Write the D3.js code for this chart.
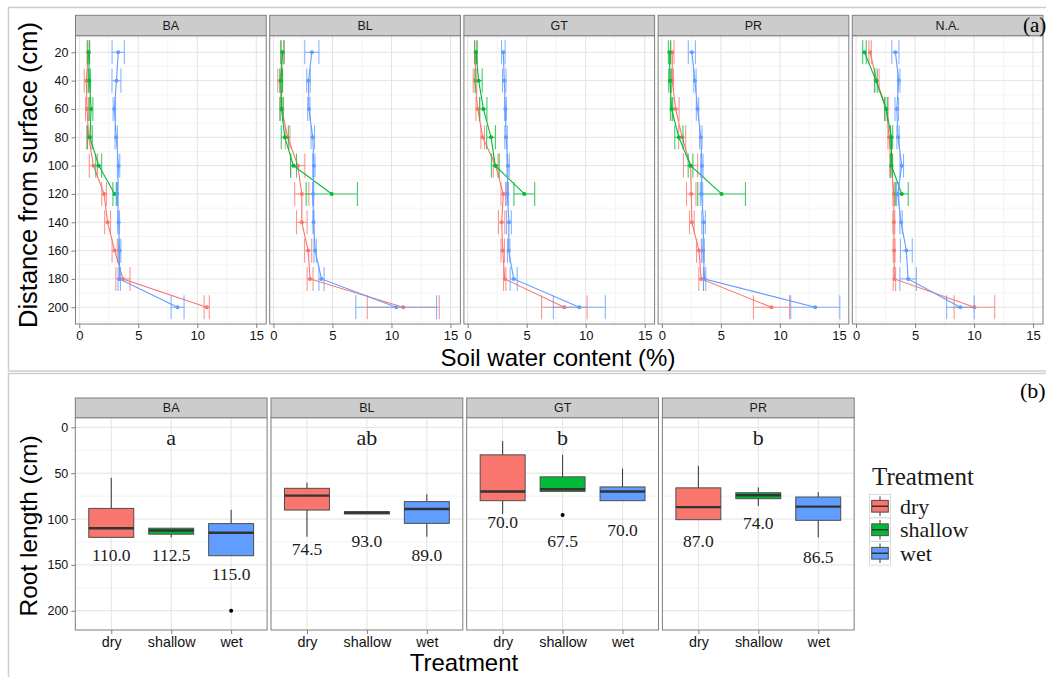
<!DOCTYPE html>
<html><head><meta charset="utf-8">
<script src="https://cdn.jsdelivr.net/npm/d3@7"></script>
<style>body{margin:0;background:#fff;} svg{display:block;}</style>
</head><body>
<svg id="chart" width="1046" height="677"></svg>
<script>
// ---------- DATA ----------
const treatments = ["dry", "shallow", "wet"];
const colors = ["#F8766D", "#00BA38", "#619CFF"];

// (a) soil water content profiles
const depths = [20, 40, 60, 80, 100, 120, 140, 160, 180, 200];
const sitesA = ["BA", "BL", "GT", "PR", "N.A."];
const xTicksA = [0, 5, 10, 15];
const yTicksA = [20, 40, 60, 80, 100, 120, 140, 160, 180, 200];

const dryMean = [
  [0.76, 0.6, 0.65, 0.8, 1.2, 2.1, 2.4, 3.0, 3.7, 10.8],
  [0.76, 0.56, 0.7, 1.2, 2.06, 2.4, 2.4, 2.94, 3.1, 11.0],
  [0.68, 0.62, 0.85, 1.27, 2.37, 3.02, 2.88, 2.97, 3.14, 8.19],
  [0.88, 0.88, 1.16, 1.72, 2.43, 2.49, 2.54, 3.14, 3.33, 9.29],
  [1.19, 1.75, 2.57, 2.8, 2.97, 3.2, 3.2, 3.22, 3.25, 10.03]
];
const drySE = [
  [0.1, 0.18, 0.12, 0.18, 0.35, 0.2, 0.25, 0.22, 0.6, 0.22],
  [0.15, 0.2, 0.15, 0.2, 0.6, 0.6, 0.45, 0.3, 0.25, 3.05],
  [0.1, 0.15, 0.15, 0.15, 0.2, 0.2, 0.27, 0.15, 0.1, 1.93],
  [0.15, 0.1, 0.3, 0.3, 0.6, 0.4, 0.2, 0.2, 0.2, 1.53],
  [0.1, 0.2, 0.15, 0.1, 0.1, 0.08, 0.08, 0.08, 0.1, 1.72]
];
const shallowMean = [
  [0.8, 0.85, 1.0, 0.9, 1.65, 3.0],
  [0.76, 0.65, 0.68, 0.96, 1.7, 4.94],
  [0.7, 0.93, 1.33, 1.98, 2.34, 4.8],
  [0.65, 0.68, 0.82, 1.44, 2.43, 5.06],
  [0.71, 1.69, 2.54, 3.0, 3.0, 3.87]
];
const shallowSE = [
  [0.08, 0.1, 0.15, 0.2, 0.25, 0.15],
  [0.12, 0.12, 0.12, 0.3, 0.25, 2.17],
  [0.1, 0.3, 0.3, 0.37, 0.33, 0.88],
  [0.1, 0.1, 0.1, 0.35, 0.2, 2.02],
  [0.15, 0.1, 0.1, 0.1, 0.1, 0.55]
];
const wetMean = [
  [3.3, 3.15, 2.97, 3.13, 3.33, 3.22, 3.33, 3.42, 3.39, 8.33],
  [3.25, 2.97, 3.0, 3.33, 3.42, 3.36, 3.39, 3.53, 4.07, 10.4],
  [3.02, 3.1, 3.2, 3.25, 3.42, 3.36, 3.5, 3.47, 3.9, 9.46],
  [2.54, 2.8, 3.02, 3.3, 3.39, 3.36, 3.53, 3.5, 3.62, 13.0],
  [3.33, 3.62, 3.45, 3.56, 3.87, 3.53, 3.81, 4.26, 4.41, 8.84]
];
const wetSE = [
  [0.52, 0.38, 0.1, 0.1, 0.1, 0.08, 0.08, 0.1, 0.1, 0.55],
  [0.6, 0.15, 0.1, 0.15, 0.1, 0.05, 0.05, 0.1, 0.22, 3.42],
  [0.15, 0.15, 0.08, 0.1, 0.1, 0.1, 0.2, 0.1, 0.3, 2.2],
  [0.3, 0.1, 0.1, 0.1, 0.1, 0.1, 0.15, 0.1, 0.1, 2.08],
  [0.3, 0.1, 0.15, 0.1, 0.15, 0.1, 0.1, 0.5, 0.7, 1.17]
];

// (b) root length boxplots: [lower whisker, Q1, median, Q3, upper whisker]
const sitesB = ["BA", "BL", "GT", "PR"];
const yTicksB = [0, 50, 100, 150, 200];
const boxDry = [
  [55, 88.4, 110, 120, 120],
  [60.4, 66.5, 74.5, 90.2, 119.3],
  [15, 30, 70, 80, 94.5],
  [42, 66, 87, 100.7, 100.7]
];
const boxShallow = [
  [110, 110, 112.5, 116.5, 120],
  [92, 92, 93, 94.5, 94.5],
  [30, 54, 67.5, 69.8, 69.8],
  [65.5, 71.3, 74, 77.8, 85.8]
];
const boxWet = [
  [90, 105, 115, 140, 140],
  [73, 81, 89, 104.7, 119.3],
  [45, 65, 70, 80, 80],
  [70.6, 76, 86.5, 101.4, 120]
];
const outDry = [[], [], [], []];
const outShallow = [[], [], [95.6], []];
const outWet = [[200], [], [], []];
const labelDepthDry = [139, 132, 103, 123.6];
const labelDepthShallow = [139, 123.6, 123.6, 104.7];
const labelDepthWet = [160, 139, 112, 141];
const groupLetters = ["a", "ab", "b", "b"];
const letterDepth = 12;

// ---------- DRAW ----------
const svg = d3.select("#chart");
const SANS = "'Liberation Sans', Arial, Helvetica, sans-serif";
const SERIF = "'Liberation Serif', 'Times New Roman', serif";
const GREY50 = "#7f7f7f";

svg.append("rect").attr("width", 1046).attr("height", 677).attr("fill", "#fff");
// frames
svg.append("rect").attr("x", 8.5).attr("y", 7.5).attr("width", 1100).attr("height", 363.5)
  .attr("fill", "none").attr("stroke", "#cdcdcd").attr("stroke-width", 1.5);
svg.append("rect").attr("x", 8.5).attr("y", 373.5).attr("width", 1100).attr("height", 400)
  .attr("fill", "none").attr("stroke", "#cdcdcd").attr("stroke-width", 1.5);

function styleAxis(g, fontSize) {
  g.select(".domain").remove();
  g.selectAll(".tick line").attr("stroke", GREY50).attr("stroke-width", 1);
  g.selectAll(".tick text").attr("font-family", SANS).attr("font-size", fontSize).attr("fill", "#111");
}

// ----- (a) -----
const PA = {left: 75.5, width: 190.7, step: 194.2, top: 35.7, bottom: 324, stripTop: 15.3};
const xA = d3.scaleLinear().domain([-0.32, 15.84]).range([0, PA.width]);
const yA = d3.scaleLinear().domain([8.28, 211.8]).range([PA.top, PA.bottom]);
const capHalf = 8.5;
const meansByT = [dryMean, shallowMean, wetMean];
const seByT = [drySE, shallowSE, wetSE];

sitesA.forEach((site, si) => {
  const g = svg.append("g").attr("transform", `translate(${PA.left + si * PA.step},0)`);
  // minor grid
  [2.5, 7.5, 12.5].forEach(v => g.append("line").attr("x1", xA(v)).attr("x2", xA(v))
    .attr("y1", PA.top).attr("y2", PA.bottom).attr("stroke", "#f3f3f3").attr("stroke-width", 1));
  d3.range(10, 211, 20).forEach(v => g.append("line").attr("x1", 0).attr("x2", PA.width)
    .attr("y1", yA(v)).attr("y2", yA(v)).attr("stroke", "#f5f5f5").attr("stroke-width", 1));
  // major grid
  xTicksA.forEach(v => g.append("line").attr("x1", xA(v)).attr("x2", xA(v))
    .attr("y1", PA.top).attr("y2", PA.bottom).attr("stroke", "#e3e3e3").attr("stroke-width", 1));
  yTicksA.forEach(v => g.append("line").attr("x1", 0).attr("x2", PA.width)
    .attr("y1", yA(v)).attr("y2", yA(v)).attr("stroke", "#e3e3e3").attr("stroke-width", 1));

  treatments.forEach((t, ti) => {
    const data = meansByT[ti][si].map((m, i) => ({d: depths[i], m: m, se: seByT[ti][si][i]}));
    const col = colors[ti];
    const eb = g.append("g").attr("stroke", col).attr("stroke-width", 1.1).attr("opacity", 0.75);
    data.forEach(p => {
      eb.append("line").attr("x1", xA(p.m - p.se)).attr("x2", xA(p.m + p.se)).attr("y1", yA(p.d)).attr("y2", yA(p.d));
      [p.m - p.se, p.m + p.se].forEach(v => eb.append("line").attr("x1", xA(v)).attr("x2", xA(v))
        .attr("y1", yA(p.d - capHalf)).attr("y2", yA(p.d + capHalf)));
    });
    g.append("path").datum(data).attr("fill", "none").attr("stroke", col).attr("stroke-width", 1.1)
      .attr("d", d3.line().x(p => xA(p.m)).y(p => yA(p.d)));
    g.selectAll(null).data(data).enter().append("circle")
      .attr("cx", p => xA(p.m)).attr("cy", p => yA(p.d)).attr("r", 2).attr("fill", col);
  });

  g.append("rect").attr("x", 0).attr("y", PA.top).attr("width", PA.width).attr("height", PA.bottom - PA.top)
    .attr("fill", "none").attr("stroke", GREY50).attr("stroke-width", 1);
  g.append("rect").attr("x", 0).attr("y", PA.stripTop).attr("width", PA.width).attr("height", PA.top - PA.stripTop)
    .attr("fill", "#cccccc").attr("stroke", GREY50).attr("stroke-width", 1);
  g.append("text").attr("x", PA.width / 2).attr("y", (PA.stripTop + PA.top) / 2).attr("dy", "0.35em")
    .attr("text-anchor", "middle").attr("font-family", SANS).attr("font-size", 12.5).attr("fill", "#1a1a1a").text(site);

  const ax = g.append("g").attr("transform", `translate(0,${PA.bottom})`)
    .call(d3.axisBottom(xA).tickValues(xTicksA).tickSize(4).tickPadding(3));
  styleAxis(ax, 13);
  if (si === 0) {
    const ay = g.append("g").call(d3.axisLeft(yA).tickValues(yTicksA).tickSize(4).tickPadding(3));
    styleAxis(ay, 12.5);
  }
});

svg.append("text").attr("x", 558).attr("y", 366).attr("text-anchor", "middle")
  .attr("font-family", SANS).attr("font-size", 24).attr("fill", "#000").text("Soil water content (%)");
svg.append("text").attr("transform", "translate(37,175) rotate(-90)").attr("text-anchor", "middle")
  .attr("font-family", SANS).attr("font-size", 25.5).attr("fill", "#000").text("Distance from surface (cm)");
svg.append("text").attr("x", 1023).attr("y", 32).attr("font-family", SERIF).attr("font-size", 21)
  .attr("fill", "#000").text("(a)");

// ----- (b) -----
const PB = {left: 75.3, width: 191.8, step: 195.7, top: 417.7, bottom: 630, stripTop: 398};
const xB = d3.scalePoint().domain(treatments).range([0, PB.width]).padding(0.6);
const yB = d3.scaleLinear().domain([-10.5, 221]).range([PB.top, PB.bottom]);
const boxW = xB.step() * 0.75;
const boxesByT = [boxDry, boxShallow, boxWet];
const outByT = [outDry, outShallow, outWet];
const labelByT = [labelDepthDry, labelDepthShallow, labelDepthWet];
const fmt = d3.format(".1f");

sitesB.forEach((site, si) => {
  const g = svg.append("g").attr("transform", `translate(${PB.left + si * PB.step},0)`);
  [25, 75, 125, 175].forEach(v => g.append("line").attr("x1", 0).attr("x2", PB.width)
    .attr("y1", yB(v)).attr("y2", yB(v)).attr("stroke", "#f2f2f2").attr("stroke-width", 1));
  yTicksB.forEach(v => g.append("line").attr("x1", 0).attr("x2", PB.width)
    .attr("y1", yB(v)).attr("y2", yB(v)).attr("stroke", "#e3e3e3").attr("stroke-width", 1));
  treatments.forEach(t => g.append("line").attr("x1", xB(t)).attr("x2", xB(t))
    .attr("y1", PB.top).attr("y2", PB.bottom).attr("stroke", "#e3e3e3").attr("stroke-width", 1));

  treatments.forEach((t, ti) => {
    const [lo, q1, med, q3, hi] = boxesByT[ti][si];
    const cx = xB(t);
    g.append("line").attr("x1", cx).attr("x2", cx).attr("y1", yB(lo)).attr("y2", yB(q1))
      .attr("stroke", "#333").attr("stroke-width", 1);
    g.append("line").attr("x1", cx).attr("x2", cx).attr("y1", yB(q3)).attr("y2", yB(hi))
      .attr("stroke", "#333").attr("stroke-width", 1);
    g.append("rect").attr("x", cx - boxW / 2).attr("width", boxW).attr("y", yB(q1))
      .attr("height", Math.max(yB(q3) - yB(q1), 0.5)).attr("fill", colors[ti])
      .attr("stroke", "#4d4d4d").attr("stroke-width", 1);
    g.append("line").attr("x1", cx - boxW / 2).attr("x2", cx + boxW / 2).attr("y1", yB(med)).attr("y2", yB(med))
      .attr("stroke", "#333").attr("stroke-width", 2.4);
    outByT[ti][si].forEach(o => g.append("circle").attr("cx", cx).attr("cy", yB(o)).attr("r", 2).attr("fill", "#000"));
    g.append("text").attr("x", cx).attr("y", yB(labelByT[ti][si])).attr("dy", "0.35em")
      .attr("text-anchor", "middle").attr("font-family", SERIF).attr("font-size", 17.5).attr("fill", "#1a1a1a")
      .text(fmt(med));
  });
  g.append("text").attr("x", xB("shallow")).attr("y", yB(letterDepth)).attr("dy", "0.32em")
    .attr("text-anchor", "middle").attr("font-family", SERIF).attr("font-size", 22).attr("fill", "#1a1a1a")
    .text(groupLetters[si]);

  g.append("rect").attr("x", 0).attr("y", PB.top).attr("width", PB.width).attr("height", PB.bottom - PB.top)
    .attr("fill", "none").attr("stroke", GREY50).attr("stroke-width", 1);
  g.append("rect").attr("x", 0).attr("y", PB.stripTop).attr("width", PB.width).attr("height", PB.top - PB.stripTop)
    .attr("fill", "#cccccc").attr("stroke", GREY50).attr("stroke-width", 1);
  g.append("text").attr("x", PB.width / 2).attr("y", (PB.stripTop + PB.top) / 2).attr("dy", "0.35em")
    .attr("text-anchor", "middle").attr("font-family", SANS).attr("font-size", 12.5).attr("fill", "#1a1a1a").text(site);

  const ax = g.append("g").attr("transform", `translate(0,${PB.bottom})`)
    .call(d3.axisBottom(xB).tickSize(4).tickPadding(3));
  styleAxis(ax, 14.3);
  if (si === 0) {
    const ay = g.append("g").call(d3.axisLeft(yB).tickValues(yTicksB).tickSize(4).tickPadding(3));
    styleAxis(ay, 12.5);
  }
});

svg.append("text").attr("x", 464).attr("y", 671).attr("text-anchor", "middle")
  .attr("font-family", SANS).attr("font-size", 24).attr("fill", "#000").text("Treatment");
svg.append("text").attr("transform", "translate(37,526) rotate(-90)").attr("text-anchor", "middle")
  .attr("font-family", SANS).attr("font-size", 24.5).attr("fill", "#000").text("Root length (cm)");
svg.append("text").attr("x", 1020).attr("y", 398).attr("font-family", SERIF).attr("font-size", 22)
  .attr("fill", "#000").text("(b)");

// legend
const lg = svg.append("g");
lg.append("text").attr("x", 872).attr("y", 485).attr("font-family", SERIF).attr("font-size", 25)
  .attr("fill", "#1a1a1a").text("Treatment");
const keyX = 869.5, keyY = 494.5, keyW = 21, keyH = 23.5;
treatments.forEach((t, i) => {
  const y0 = keyY + i * keyH;
  lg.append("rect").attr("x", keyX).attr("y", y0).attr("width", keyW).attr("height", keyH)
    .attr("fill", "#fff").attr("stroke", "#d9d9d9").attr("stroke-width", 1);
  const cx = keyX + keyW / 2;
  lg.append("line").attr("x1", cx).attr("x2", cx).attr("y1", y0 + 2).attr("y2", y0 + keyH - 2)
    .attr("stroke", "#333").attr("stroke-width", 1);
  lg.append("rect").attr("x", keyX + 2.2).attr("y", y0 + keyH * 0.25).attr("width", keyW - 4.4).attr("height", keyH * 0.5)
    .attr("fill", colors[i]).attr("stroke", "#4d4d4d").attr("stroke-width", 1);
  lg.append("line").attr("x1", keyX + 2.2).attr("x2", keyX + keyW - 2.2).attr("y1", y0 + keyH / 2).attr("y2", y0 + keyH / 2)
    .attr("stroke", "#333").attr("stroke-width", 1.5);
  lg.append("text").attr("x", 900).attr("y", y0 + keyH / 2).attr("dy", "0.33em")
    .attr("font-family", SERIF).attr("font-size", 22).attr("fill", "#1a1a1a").text(t);
});
</script>
</body></html>
